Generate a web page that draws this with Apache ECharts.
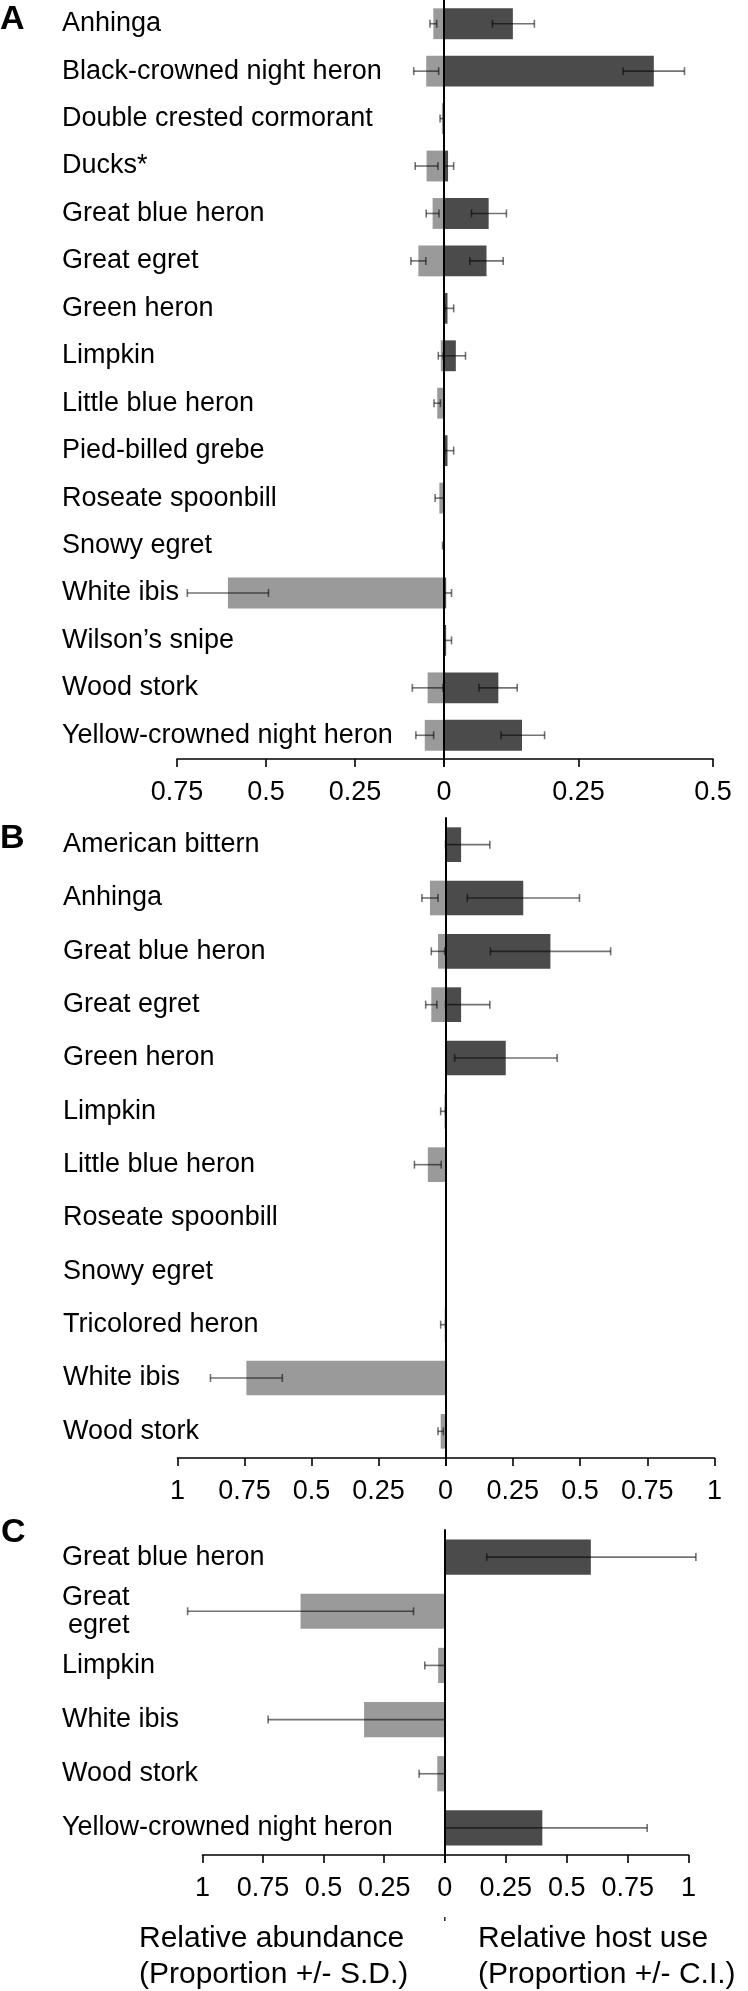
<!DOCTYPE html>
<html>
<head>
<meta charset="utf-8">
<script src="https://cdn.jsdelivr.net/npm/echarts@6/dist/echarts.min.js"></script>
<style>
html,body{margin:0;padding:0;background:#fff;}
#chart{width:748px;height:1991px;}
</style>
</head>
<body>
<div id="chart"></div>
<script>
// ---------- Panel A ----------
const catA = ['Anhinga','Black-crowned night heron','Double crested cormorant','Ducks*','Great blue heron','Great egret','Green heron','Limpkin','Little blue heron','Pied-billed grebe','Roseate spoonbill','Snowy egret','White ibis','Wilson\u2019s snipe','Wood stork','Yellow-crowned night heron'];
const abundA = [0.030, 0.050, 0.006, 0.049, 0.032, 0.072, 0, 0.009, 0.019, 0, 0.013, 0.002, 0.607, 0, 0.046, 0.054];
const sdA    = [0.0095, 0.035, 0.005, 0.032, 0.018, 0.021, null, 0.007, 0.009, null, 0.012, 0.002, 0.114, null, 0.043, 0.025];
const hostA  = [0.128, 0.390, 0, 0.0075, 0.083, 0.079, 0.0065, 0.022, 0, 0.0065, 0, 0, 0.004, 0.004, 0.101, 0.145];
const ciLoA  = [0.090, 0.333, null, 0, 0.051, 0.048, 0.001, 0, null, 0.001, null, null, 0, 0, 0.065, 0.106];
const ciHiA  = [0.168, 0.447, null, 0.018, 0.116, 0.110, 0.018, 0.040, null, 0.018, null, null, 0.014, 0.014, 0.136, 0.187];

// ---------- Panel B ----------
const catB = ['American bittern','Anhinga','Great blue heron','Great egret','Green heron','Limpkin','Little blue heron','Roseate spoonbill','Snowy egret','Tricolored heron','White ibis','Wood stork'];
const abundB = [0, 0.058, 0.028, 0.053, 0, 0.004, 0.066, 0, 0, 0.003, 0.743, 0.018];
const sdB    = [null, 0.030, 0.025, 0.021, null, 0.014, 0.050, null, null, 0.015, 0.134, 0.010];
const hostB  = [0.058, 0.289, 0.390, 0.058, 0.224, 0, 0, 0, 0, 0, 0, 0];
const ciLoB  = [0, 0.081, 0.167, 0, 0.034, null, null, null, null, null, null, null];
const ciHiB  = [0.165, 0.498, 0.614, 0.165, 0.415, null, null, null, null, null, null, null];

// ---------- Panel C ----------
const catC = ['Great blue heron','Great\negret','Limpkin','White ibis','Wood stork','Yellow-crowned night heron'];
const abundC = [0, 0.595, 0.0275, 0.333, 0.031, 0];
const sdC    = [null, 0.466, 0.055, 0.396, 0.075, null];
const hostC  = [0.599, 0, 0, 0, 0, 0.40];
const ciLoC  = [0.172, null, null, null, null, 0];
const ciHiC  = [1.03, null, null, null, null, 0.83];

const FONT = "'Liberation Sans', Arial, sans-serif";
const LIGHT = '#9a9a9a';
const DARK = '#4b4b4b';
const ERR = 'rgba(0,0,0,0.55)';

const chart = echarts.init(document.getElementById('chart'), null, {renderer: 'canvas'});

function sdData(vals, sds) {
  const out = [];
  vals.forEach((v, i) => { if (sds[i] != null) out.push([Math.max(0, v - sds[i]), v + sds[i], i]); });
  return out;
}
function ciData(lo, hi) {
  const out = [];
  lo.forEach((l, i) => { if (l != null) out.push([l, hi[i], i]); });
  return out;
}
function renderErr(params, api) {
  const y = api.value(2);
  const a = api.coord([api.value(0), y]);
  const b = api.coord([api.value(1), y]);
  const h = 4;
  const st = {stroke: ERR, lineWidth: 1.6};
  return {type: 'group', children: [
    {type: 'line', shape: {x1: a[0], y1: a[1], x2: b[0], y2: b[1]}, style: st},
    {type: 'line', shape: {x1: a[0], y1: a[1] - h, x2: a[0], y2: a[1] + h}, style: st},
    {type: 'line', shape: {x1: b[0], y1: b[1] - h, x2: b[0], y2: b[1] + h}, style: st}
  ]};
}

const grids = [], xAxes = [], yAxes = [], series = [];
function addPanel(cfg) {
  const gi = grids.length;
  grids.push({left: cfg.x0, width: cfg.zero - cfg.x0, top: cfg.top, height: cfg.height, containLabel: false});
  grids.push({left: cfg.zero, width: cfg.x1 - cfg.zero, top: cfg.top, height: cfg.height, containLabel: false});
  const axisCommon = {
    type: 'value', min: 0, interval: 0.25,
    splitLine: {show: false},
    axisLine: {show: true, lineStyle: {color: '#000', width: 1.6}},
    axisTick: {show: true, length: 8, lineStyle: {color: '#000', width: 1.6}},
  };
  xAxes.push(Object.assign({}, axisCommon, {gridIndex: gi, max: cfg.maxL, inverse: true,
    axisLabel: {show: true, margin: 20, fontSize: 27, color: '#000', fontFamily: FONT,
      formatter: v => v === 0 ? '' : String(v)}}));
  xAxes.push(Object.assign({}, axisCommon, {gridIndex: gi + 1, max: cfg.maxR,
    axisLabel: {show: true, margin: 20, fontSize: 27, color: '#000', fontFamily: FONT,
      formatter: v => String(v)}}));
  yAxes.push({type: 'category', gridIndex: gi, data: cfg.cats, inverse: true,
    axisLine: {show: false}, axisTick: {show: false},
    axisLabel: {show: true, align: 'left', margin: cfg.x0 - cfg.labelX, fontSize: 27, color: '#000', fontFamily: FONT,
      formatter: v => v.indexOf('\n') >= 0 ? '{a|' + v.split('\n')[0] + '}\n{b|' + v.split('\n')[1] + '}' : v,
      rich: {a: {fontSize: 27, fontFamily: FONT, color: '#000', lineHeight: 28},
             b: {fontSize: 27, fontFamily: FONT, color: '#000', lineHeight: 28, padding: [0, 0, 0, 6]}}}});
  yAxes.push({type: 'category', gridIndex: gi + 1, data: cfg.cats, inverse: true, z: 10,
    axisLine: {show: true, lineStyle: {color: '#000', width: 2}}, axisTick: {show: false}, axisLabel: {show: false}});
  const xl = xAxes.length - 2, yl = yAxes.length - 2;
  series.push({type: 'bar', xAxisIndex: xl, yAxisIndex: yl, data: cfg.abund, barWidth: '65%',
    itemStyle: {color: LIGHT}, silent: true, z: 2});
  series.push({type: 'bar', xAxisIndex: xl + 1, yAxisIndex: yl + 1, data: cfg.host, barWidth: '65%',
    itemStyle: {color: DARK}, silent: true, z: 2});
  series.push({type: 'custom', xAxisIndex: xl, yAxisIndex: yl, data: sdData(cfg.abund, cfg.sd),
    encode: {x: [0, 1], y: 2}, renderItem: renderErr, clip: false, silent: true, z: 5});
  series.push({type: 'custom', xAxisIndex: xl + 1, yAxisIndex: yl + 1, data: ciData(cfg.lo, cfg.hi),
    encode: {x: [0, 1], y: 2}, renderItem: renderErr, clip: false, silent: true, z: 5});
}

addPanel({cats: catA, abund: abundA, sd: sdA, host: hostA, lo: ciLoA, hi: ciHiA,
  x0: 177, zero: 444, x1: 713, top: 0, height: 759, maxL: 0.75, maxR: 0.5, labelX: 62});
addPanel({cats: catB, abund: abundB, sd: sdB, host: hostB, lo: ciLoB, hi: ciHiB,
  x0: 177.5, zero: 445.5, x1: 714.5, top: 818, height: 640, maxL: 1, maxR: 1, labelX: 63});
addPanel({cats: catC, abund: abundC, sd: sdC, host: hostC, lo: ciLoC, hi: ciHiC,
  x0: 202.4, zero: 444.8, x1: 688.6, top: 1530, height: 325, maxL: 1, maxR: 1, labelX: 62});

const graphic = [
  {type: 'text', left: 0, top: 3, style: {text: 'A', font: 'bold 34px ' + FONT, fill: '#000'}},
  {type: 'text', left: 0, top: 822, style: {text: 'B', font: 'bold 34px ' + FONT, fill: '#000'}},
  {type: 'text', left: 1, top: 1516, style: {text: 'C', font: 'bold 34px ' + FONT, fill: '#000'}},
  {type: 'text', left: 139, top: 1921, style: {text: 'Relative abundance\n(Proportion +/- S.D.)', font: '30px ' + FONT, fill: '#000', lineHeight: 36}},
  {type: 'text', left: 478, top: 1921, style: {text: 'Relative host use\n(Proportion +/- C.I.)', font: '30px ' + FONT, fill: '#000', lineHeight: 36}},
  {type: 'rect', shape: {x: 444, y: 1917, width: 1.6, height: 4}, style: {fill: '#333'}}
];

chart.setOption({
  backgroundColor: '#fff',
  animation: false,
  grid: grids, xAxis: xAxes, yAxis: yAxes, series: series, graphic: graphic
});
</script>
</body>
</html>
